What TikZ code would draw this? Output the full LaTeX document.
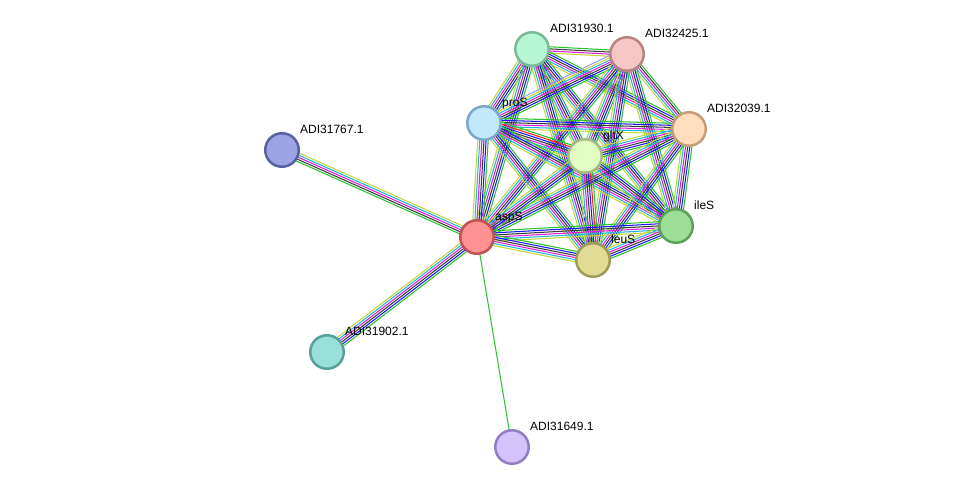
\documentclass[tikz,border=0pt]{standalone}
\usepackage{fontspec}
\setmainfont{Liberation Sans}
\usetikzlibrary{calc,backgrounds}
\definecolor{eG}{RGB}{45,195,45}
\definecolor{eR}{RGB}{250,30,30}
\definecolor{eB}{RGB}{25,25,250}
\definecolor{eK}{RGB}{60,60,60}
\definecolor{eM}{RGB}{220,30,220}
\definecolor{eC}{RGB}{35,180,220}
\definecolor{eY}{RGB}{195,215,55}
\definecolor{eL}{RGB}{160,160,240}
\definecolor{f31930}{RGB}{182,246,212}\definecolor{s31930}{RGB}{122,186,152}
\definecolor{f32425}{RGB}{246,198,198}\definecolor{s32425}{RGB}{186,130,130}
\definecolor{fproS}{RGB}{194,232,252}\definecolor{sproS}{RGB}{122,168,198}
\definecolor{f32039}{RGB}{254,222,190}\definecolor{s32039}{RGB}{196,158,122}
\definecolor{fgltX}{RGB}{226,252,196}\definecolor{sgltX}{RGB}{162,188,128}
\definecolor{f31767}{RGB}{156,164,228}\definecolor{s31767}{RGB}{88,98,160}
\definecolor{faspS}{RGB}{254,146,146}\definecolor{saspS}{RGB}{192,82,82}
\definecolor{fileS}{RGB}{156,222,150}\definecolor{sileS}{RGB}{94,160,90}
\definecolor{fleuS}{RGB}{224,220,150}\definecolor{sleuS}{RGB}{160,156,88}
\definecolor{f31902}{RGB}{152,224,216}\definecolor{s31902}{RGB}{88,160,152}
\definecolor{f31649}{RGB}{212,194,250}\definecolor{s31649}{RGB}{146,126,196}
\def\fullset{eG,eB,eK,eM,eC,eY}
\newcommand\sedge[3]{%
  \edef\elist{#3}%
  \xdef\ecount{0}%
  \foreach \ecol in \elist {\pgfmathtruncatemacro\etmp{\ecount+1}\xdef\ecount{\etmp}}%
  \foreach \ecol [count=\ei] in \elist {%
    \pgfmathsetmacro\eoff{((\ecount-1)/2-(\ei-1))*2.1}%
    \draw[evline, draw=\ecol] ($(#1.center)!\eoff pt!90:(#2.center)$) -- ($(#2.center)!\eoff pt!-90:(#1.center)$);
  }%
}
\begin{document}
\begin{tikzpicture}[x=1pt,y=-1pt,
  prot/.style={circle, minimum size=33.5pt, inner sep=0pt, line width=2.5pt},
  lbl/.style={anchor=base west, inner sep=0pt, font=\fontsize{12}{14}\selectfont, text=black},
  evline/.style={line width=1.05pt}]
\useasboundingbox (0,0) rectangle (975,493);
\begin{pgfonlayer}{background}
\fill[white] (0,0) rectangle (975,493);
\end{pgfonlayer}
% nodes
\node[prot, fill=f31930, draw=s31930] (n31930) at (532,49) {};
\node[prot, fill=f32425, draw=s32425] (n32425) at (627,54) {};
\node[prot, fill=fproS, draw=sproS] (proS) at (484,123) {};
\node[prot, fill=f32039, draw=s32039] (n32039) at (689,129) {};
\node[prot, fill=fgltX, draw=sgltX] (gltX) at (585,156) {};
\node[prot, fill=f31767, draw=s31767] (n31767) at (282,150) {};
\node[prot, fill=faspS, draw=saspS] (aspS) at (477,237) {};
\node[prot, fill=fileS, draw=sileS] (ileS) at (676,226) {};
\node[prot, fill=fleuS, draw=sleuS] (leuS) at (593,260) {};
\node[prot, fill=f31902, draw=s31902] (n31902) at (327,352) {};
\node[prot, fill=f31649, draw=s31649] (n31649) at (512,447) {};
% labels
\node[lbl] (l31930) at ($(n31930.center)+(18,-17)$) {ADI31930.1};
\node[lbl] (l32425) at ($(n32425.center)+(18,-17)$) {ADI32425.1};
\node[lbl] (lproS) at ($(proS.center)+(18,-17)$) {proS};
\node[lbl] (l32039) at ($(n32039.center)+(18,-17)$) {ADI32039.1};
\node[lbl] (lgltX) at ($(gltX.center)+(18,-17)$) {gltX};
\node[lbl] (l31767) at ($(n31767.center)+(18,-17)$) {ADI31767.1};
\node[lbl] (laspS) at ($(aspS.center)+(18,-17)$) {aspS};
\node[lbl] (lileS) at ($(ileS.center)+(18,-17)$) {ileS};
\node[lbl] (lleuS) at ($(leuS.center)+(18,-17)$) {leuS};
\node[lbl] (l31902) at ($(n31902.center)+(18,-17)$) {ADI31902.1};
\node[lbl] (l31649) at ($(n31649.center)+(18,-17)$) {ADI31649.1};
% edges
\begin{pgfonlayer}{background}
\sedge{aspS}{n31767}{eG,eK,eM,eC,eY}
\sedge{aspS}{n31902}{\fullset}
\sedge{aspS}{n31649}{eG}
\sedge{n31930}{n32425}{eG,eK,eM,eY}
\sedge{n31930}{proS}{\fullset}
\sedge{n31930}{n32039}{\fullset}
\sedge{n31930}{gltX}{\fullset}
\sedge{n31930}{aspS}{\fullset}
\sedge{n31930}{ileS}{\fullset}
\sedge{n31930}{leuS}{\fullset}
\sedge{n32425}{proS}{\fullset,eL}
\sedge{n32425}{n32039}{eG,eK,eM,eC,eY}
\sedge{n32425}{gltX}{\fullset}
\sedge{n32425}{aspS}{\fullset}
\sedge{n32425}{ileS}{\fullset}
\sedge{n32425}{leuS}{\fullset}
\sedge{proS}{n32039}{\fullset}
\sedge{proS}{gltX}{eG,eR,eB,eK,eM,eC,eY}
\sedge{proS}{aspS}{\fullset}
\sedge{proS}{ileS}{\fullset}
\sedge{proS}{leuS}{\fullset}
\sedge{n32039}{gltX}{\fullset}
\sedge{n32039}{aspS}{\fullset}
\sedge{n32039}{ileS}{\fullset}
\sedge{n32039}{leuS}{\fullset}
\sedge{gltX}{aspS}{\fullset}
\sedge{gltX}{ileS}{\fullset}
\sedge{gltX}{leuS}{eG,eR,eB,eK,eM,eC,eY}
\sedge{aspS}{ileS}{\fullset}
\sedge{aspS}{leuS}{\fullset}
\sedge{ileS}{leuS}{\fullset}
\end{pgfonlayer}
\end{tikzpicture}
\end{document}
